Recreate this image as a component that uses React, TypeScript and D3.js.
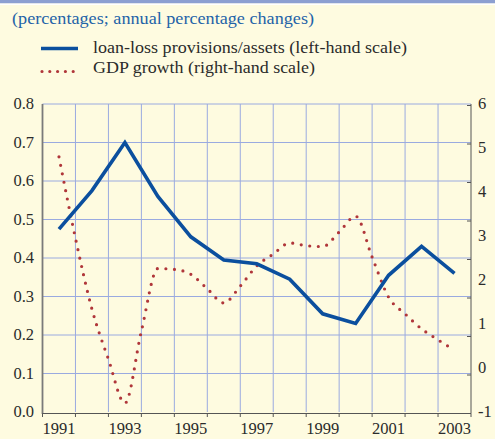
import React, { useEffect, useRef } from "react";
import * as d3 from "d3";

// loan-loss provisions / assets, % (left-hand scale)
const years = [1991, 1992, 1993, 1994, 1995, 1996, 1997, 1998, 1999, 2000, 2001, 2002, 2003];
const loanLoss = [0.475, 0.575, 0.70, 0.56, 0.455, 0.395, 0.385, 0.345, 0.255, 0.23, 0.355, 0.43, 0.36];

// GDP growth, % (right-hand scale), half-yearly readings
const gdpTimes = [1991.5, 1992, 1992.5, 1993, 1993.5, 1994, 1994.5, 1995, 1995.5, 1996, 1996.5, 1997, 1997.5,
  1998, 1998.5, 1999, 1999.5, 2000, 2000.5, 2001, 2001.5, 2002, 2002.5, 2003, 2003.45];
const gdpGrowth = [4.8, 2.95, 1.34, 0.2, -0.8, 0.84, 2.26, 2.24, 2.13, 1.8, 1.48, 1.86, 2.32,
  2.59, 2.84, 2.78, 2.76, 3.09, 3.45, 2.52, 1.61, 1.23, 0.89, 0.64, 0.43];

const leftTicks = [0, 0.1, 0.2, 0.3, 0.4, 0.5, 0.6, 0.7, 0.8];
const rightTicks = [-1, 0, 1, 2, 3, 4, 5, 6];
const yearLabels = [1991, 1993, 1995, 1997, 1999, 2001, 2003];

const title = "(percentages; annual percentage changes)";
const legend1 = "loan-loss provisions/assets (left-hand scale)";
const legend2 = "GDP growth (right-hand scale)";

const blue = "#0b4f9e";
const red = "#b0363a";
const grid = "#9aaae0";
const font = "Liberation Serif, Times New Roman, Times, DejaVu Serif, serif";

function Chart() {
  const ref = useRef<SVGSVGElement>(null);

  useEffect(() => {
    const svg = d3.select(ref.current);
    svg.selectAll("*").remove();
    const width = 495;
    const height = 439;
    const left = 42.5, right = 471, top = 104, bottom = 412;

    svg.append("rect").attr("width", width).attr("height", height).attr("fill", "#fefbe0");
    svg.append("rect").attr("width", width).attr("height", 3.5).attr("fill", "#8c9fd1");
    svg.append("rect").attr("y", 3.5).attr("width", width).attr("height", 1.5).attr("fill", "#ffffff");

    // time scale: year start -> boundary
    const x = d3.scaleLinear().domain([1991, 2004]).range([left, right]);
    const yL = d3.scaleLinear().domain([0, 0.8]).range([bottom, top]);
    const yR = d3.scaleLinear().domain([-1, 6]).range([bottom, top]);

    // grid
    const g = svg.append("g");
    d3.range(1992, 2004).forEach(yr => {
      g.append("line").attr("x1", x(yr)).attr("x2", x(yr)).attr("y1", top).attr("y2", bottom)
        .attr("stroke", grid).attr("stroke-width", 1);
    });
    leftTicks.slice(1).forEach(v => {
      g.append("line").attr("x1", left).attr("x2", right).attr("y1", yL(v)).attr("y2", yL(v))
        .attr("stroke", grid).attr("stroke-width", 1);
    });

    // axes
    svg.append("line").attr("x1", left).attr("x2", left).attr("y1", top).attr("y2", bottom + 2)
      .attr("stroke", "#7a7a7a").attr("stroke-width", 1.8);
    svg.append("line").attr("x1", left).attr("x2", right).attr("y1", bottom + 1.5).attr("y2", bottom + 1.5)
      .attr("stroke", "#555").attr("stroke-width", 1);
    svg.append("line").attr("x1", right).attr("x2", right).attr("y1", top).attr("y2", bottom + 1.5)
      .attr("stroke", "#555").attr("stroke-width", 1);

    d3.range(1991, 2005).forEach(yr => {
      svg.append("line").attr("x1", x(yr)).attr("x2", x(yr)).attr("y1", bottom + 1.5).attr("y2", bottom + 5)
        .attr("stroke", "#555").attr("stroke-width", 1);
    });
    leftTicks.forEach(v => {
      svg.append("line").attr("x1", right - 4).attr("x2", right).attr("y1", yL(v) + 1.5).attr("y2", yL(v) + 1.5)
        .attr("stroke", "#555").attr("stroke-width", 1);
    });

    const txt = "#2b2b2b";
    leftTicks.forEach(v => {
      svg.append("text").attr("x", 34).attr("y", yL(v) + 5).attr("text-anchor", "end")
        .style("font-family", font).attr("font-size", 16.5).attr("fill", txt).text(v.toFixed(1));
    });
    rightTicks.forEach(v => {
      svg.append("text").attr("x", 478).attr("y", yR(v) + 5).attr("text-anchor", "start")
        .style("font-family", font).attr("font-size", 16.5).attr("fill", txt).text(String(v));
    });
    yearLabels.forEach(yr => {
      svg.append("text").attr("x", x(yr + 0.5)).attr("y", 434).attr("text-anchor", "middle")
        .style("font-family", font).attr("font-size", 16.5).attr("fill", txt).text(String(yr));
    });

    // GDP dotted curve
    const gdpLine = d3.line<number>()
      .x((_, i) => x(gdpTimes[i]))
      .y(d => yR(d))
      .curve(d3.curveMonotoneX);
    svg.append("path").attr("d", gdpLine(gdpGrowth)).attr("fill", "none")
      .attr("stroke", red).attr("stroke-width", 3.2).attr("stroke-linecap", "round")
      .attr("stroke-dasharray", "0 8.6");

    // loan-loss line
    const llLine = d3.line<number>()
      .x((_, i) => x(years[i] + 0.5))
      .y(d => yL(d));
    svg.append("path").attr("d", llLine(loanLoss)).attr("fill", "none")
      .attr("stroke", blue).attr("stroke-width", 3.6).attr("stroke-linejoin", "miter");

    // title and legend
    svg.append("text").attr("x", 12).attr("y", 24).style("font-family", font).attr("font-size", 17.5)
      .attr("textLength", 302).attr("lengthAdjust", "spacingAndGlyphs")
      .attr("fill", "#1f63a8").text(title);
    svg.append("line").attr("x1", 41).attr("x2", 78).attr("y1", 48.5).attr("y2", 48.5)
      .attr("stroke", blue).attr("stroke-width", 3.6);
    svg.append("text").attr("x", 93).attr("y", 53).style("font-family", font).attr("font-size", 17.5)
      .attr("textLength", 314).attr("lengthAdjust", "spacingAndGlyphs")
      .attr("fill", txt).text(legend1);
    svg.append("line").attr("x1", 42).attr("x2", 78).attr("y1", 71.5).attr("y2", 71.5)
      .attr("stroke", red).attr("stroke-width", 3.2).attr("stroke-linecap", "round")
      .attr("stroke-dasharray", "0 7.8");
    svg.append("text").attr("x", 93).attr("y", 72.5).style("font-family", font).attr("font-size", 17.5)
      .attr("textLength", 222).attr("lengthAdjust", "spacingAndGlyphs")
      .attr("fill", txt).text(legend2);
  }, []);

  return <svg ref={ref} width={495} height={439} style={{ display: "block" }} />;
}

export default function App() {
  return (
    <div style={{ position: "absolute", left: 0, top: 0 }}>
      <Chart />
    </div>
  );
}
